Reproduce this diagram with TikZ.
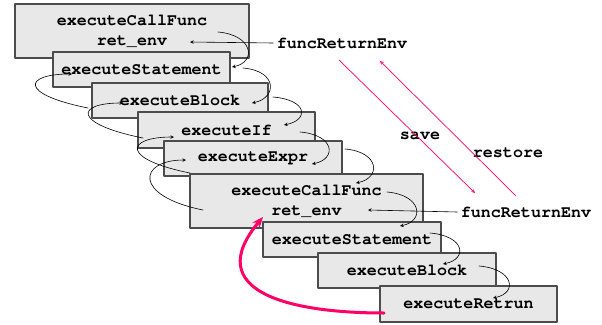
\documentclass[tikz,border=0pt]{standalone}
\usepackage{fontspec}
\setmonofont{texgyrecursor}[Extension=.otf,UprightFont=*-regular,BoldFont=*-bold]
\usetikzlibrary{arrows.meta}
\definecolor{hotpink}{RGB}{255,0,102}
\tikzset{
	frame/.style={draw=black!70,fill=black!9,line width=1.2pt,inner sep=0pt,outer sep=0pt,align=center},
	link/.style={->,line width=0.6pt},
	pinkline/.style={->,hotpink,line width=0.7pt}
}
\begin{document}
\begin{tikzpicture}[x=1pt,y=-1pt,line join=round,line cap=round,>=stealth,
		font=\fontsize{16.7}{20}\selectfont\ttfamily\bfseries]
			\useasboundingbox (0,0) rectangle (602,324);
			\node[frame,minimum width=234,minimum height=54] (b1) at (132,31) {executeCallFunc\\ret\_env};
			\node[frame,minimum width=177,minimum height=35] (b2) at (141.5,69.5) {executeStatement};
			\node[frame,minimum width=176,minimum height=35] (b3) at (180,100.5) {executeBlock};
			\node[frame,minimum width=177,minimum height=36] (b4) at (226.5,130) {executeIf};
			\node[frame,minimum width=178,minimum height=35] (b5) at (253,158.5) {executeExpr};
			\node[frame,minimum width=233,minimum height=54] (b6) at (306.5,201) {executeCallFunc\\ret\_env};
			\node[frame,minimum width=178,minimum height=35] (b7) at (352,239.5) {executeStatement};
			\node[frame,minimum width=178,minimum height=35] (b8) at (407,270.5) {executeBlock};
			\node[frame,minimum width=177,minimum height=36] (b9) at (468.5,304) {executeRetrun};
			\node (env1) at (342,43) {funcReturnEnv};
			\node (env2) at (526,212) {funcReturnEnv};
			\node (save) at (420,136) {save};
			\node (restore) at (508,153) {restore};
			\draw[link] (env1.west) -- ([shift={(175,38)}]b1.north west);
			\draw[link] (env2.west) -- ([shift={(178,36)}]b6.north west);
			\draw[link] ([shift={(203,28)}]b1.north west) .. controls +(35,3) and +(25,-5) .. ([shift={(179,15)}]b2.north west);
			\draw[link] ([shift={(190,16)}]b2.north west) .. controls +(35,3) and +(25,-5) .. ([shift={(160,20)}]b3.north west);
			\draw[link] ([shift={(181,14)}]b3.north west) .. controls +(35,3) and +(25,-5) .. ([shift={(146,13)}]b4.north west);
			\draw[link] ([shift={(162,20)}]b4.north west) .. controls +(35,3) and +(25,-5) .. ([shift={(148,23)}]b5.north west);
			\draw[link] ([shift={(181,8)}]b5.north west) .. controls +(35,3) and +(25,-5) .. ([shift={(166,9)}]b6.north west);
			\draw[link] ([shift={(197,18)}]b6.north west) .. controls +(35,3) and +(25,-5) .. ([shift={(137,4)}]b7.north west);
			\draw[link] ([shift={(167,11)}]b7.north west) .. controls +(35,3) and +(25,-5) .. ([shift={(125,11)}]b8.north west);
			\draw[link] ([shift={(161,13)}]b8.north west) .. controls +(35,3) and +(25,-5) .. ([shift={(113,12)}]b9.north west);
			\draw[link] ([shift={(-4,25)}]b3.north west) .. controls +(-70,-14) and +(-48,0) .. ([shift={(19,22)}]b2.north west);
			\draw[link] ([shift={(5,26)}]b4.north west) .. controls +(-70,-14) and +(-48,0) .. ([shift={(31,20)}]b3.north west);
			\draw[link] ([shift={(26,32)}]b5.north west) .. controls +(-70,-14) and +(-48,0) .. ([shift={(36,25)}]b4.north west);
			\draw[link] ([shift={(13,36)}]b6.north west) .. controls +(-70,-14) and +(-48,0) .. ([shift={(22,19)}]b5.north west);
			\coordinate (s1) at (339,60);
			\coordinate (s2) at (475,193);
			\coordinate (r1) at (516,196);
			\coordinate (r2) at (380,61);
			\draw[pinkline] (s1) -- (s2);
			\draw[pinkline] (r1) -- (r2);
			\draw[hotpink,line width=3pt,-{Stealth[length=11pt,width=9pt]}] ([shift={(4,27)}]b9.north west) .. controls +(-96,0) and +(-62,74) .. ([shift={(73,43)}]b6.north west);
\end{tikzpicture}
\end{document}
